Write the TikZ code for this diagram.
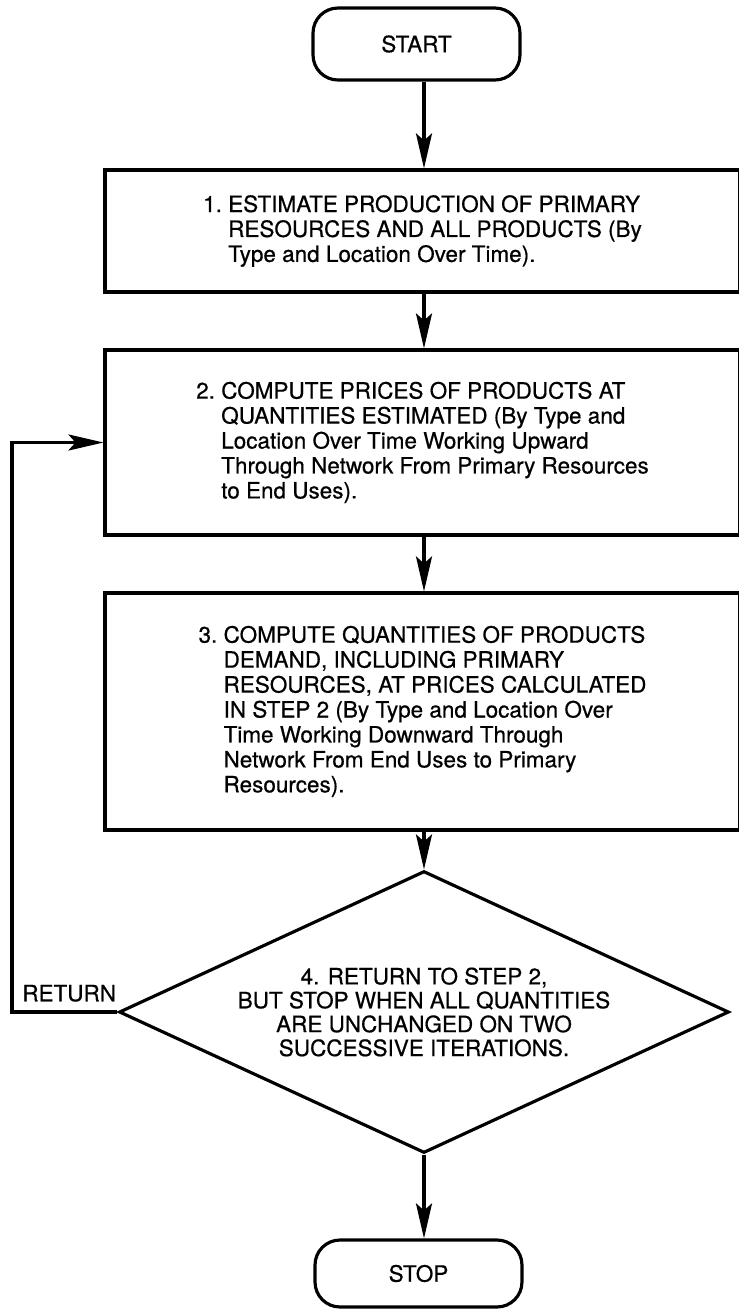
\documentclass[tikz,border=0pt]{standalone}
\usepackage{fontspec}
\setmainfont{TeX Gyre Heros}[FakeBold=0.6]
\usetikzlibrary{shapes.geometric,arrows.meta}

\newcommand*{\colx}{424}
\newcommand*{\loopx}{12}
\newcommand*{\numgap}[1]{\phantom{#1\ }}

\begin{document}
\begin{tikzpicture}
[
	x=0.02cm, y=-0.02cm,
	every node/.style={font=\fontsize{12.8}{14.2}\selectfont},
	termbox/.style={draw,line width=1.8pt,rounded corners=0.5cm,minimum width=4.14cm},
	stepbox/.style={draw,line width=1.8pt,align=left,minimum width=12.7cm},
	testbox/.style={diamond,draw,line width=1.8pt,align=center,inner sep=0pt,aspect=2.16,
		minimum width=12.2cm,minimum height=5.64cm,font=\fontsize{12.8}{13.6}\selectfont},
	flow/.style={line width=1.8pt,-{Stealth[length=0.7cm,width=0.32cm,inset=0.14cm]}}
]

	\useasboundingbox (0,0) rectangle (738,1309);

	% terminals
	\node[termbox,minimum height=1.44cm] (start) at (416.5,44) {START};
	\node[termbox,minimum height=1.34cm] (stop) at (418.5,1273.5) {STOP};

	% steps
	\node[stepbox,minimum height=2.44cm] (box1) at (422.5,231)
		{1.\ ESTIMATE PRODUCTION OF PRIMARY\\
		\numgap{1.}RESOURCES AND ALL PRODUCTS (By\\
		\numgap{1.}Type and Location Over Time).};
	\node[stepbox,minimum height=3.7cm] (box2) at (422.5,442.5)
		{2.\ COMPUTE PRICES OF PRODUCTS AT\\
		\numgap{2.}QUANTITIES ESTIMATED (By Type and\\
		\numgap{2.}Location Over Time Working Upward\\
		\numgap{2.}Through Network From Primary Resources\\
		\numgap{2.}to End Uses).};
	\node[stepbox,minimum height=4.74cm] (box3) at (422.5,711.5)
		{3.\ COMPUTE QUANTITIES OF PRODUCTS\\
		\numgap{3.}DEMAND, INCLUDING PRIMARY\\
		\numgap{3.}RESOURCES, AT PRICES CALCULATED\\
		\numgap{3.}IN STEP 2 (By Type and Location Over\\
		\numgap{3.}Time Working Downward Through\\
		\numgap{3.}Network From End Uses to Primary\\
		\numgap{3.}Resources).};

	% test
	\node[testbox] (dia) at (\colx,1012)
		{4. RETURN TO STEP 2,\\
		BUT STOP WHEN ALL QUANTITIES\\
		ARE UNCHANGED ON TWO\\
		SUCCESSIVE ITERATIONS.};

	% connectors
	\coordinate (col) at (\colx,0);
	\draw[flow] (start.south -| col) -- (box1.north -| col);
	\draw[flow] (box1.south -| col) -- (box2.north -| col);
	\draw[flow] (box2.south -| col) -- (box3.north -| col);
	\draw[flow] (box3.south -| col) -- (dia.north);
	\draw[flow] (dia.south) -- (stop.north -| dia.south);

	% return loop
	\coordinate (bend) at (\loopx,1012);
	\draw[flow] (dia.west) -- (bend) |- (box2.west);
	\node[above right,inner sep=0.2cm] (ret) at (bend) {RETURN};

\end{tikzpicture}
\end{document}
